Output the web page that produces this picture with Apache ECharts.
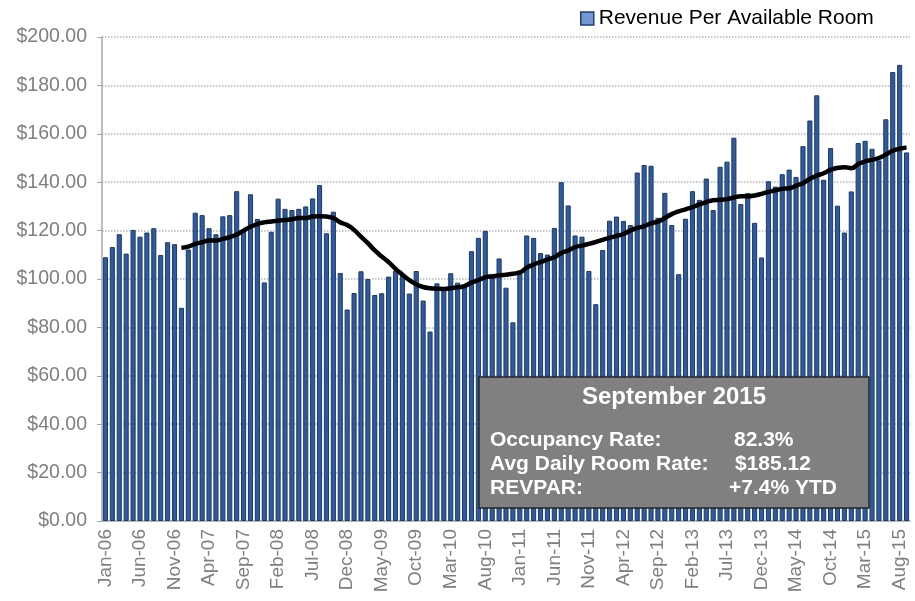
<!DOCTYPE html>
<html>
<head>
<meta charset="utf-8">
<title>Revenue Per Available Room</title>
<script src="https://cdn.jsdelivr.net/npm/echarts@6/dist/echarts.min.js"></script>
<style>
  html, body { margin: 0; padding: 0; background: #fff; }
  #chart { width: 915px; height: 601px; }
</style>
</head>
<body>
<div id="chart"></div>
<script>
// month labels Jan-06 .. Sep-15
const monthNames = ['Jan', 'Feb', 'Mar', 'Apr', 'May', 'Jun', 'Jul', 'Aug', 'Sep', 'Oct', 'Nov', 'Dec']
const years = ['06', '07', '08', '09', '10', '11', '12', '13', '14', '15']
const categories = []
years.forEach(function (y) {
  monthNames.forEach(function (m) {
    if (categories.length < 117) categories.push(m + '-' + y)
  })
})

// monthly RevPAR
const revpar = [
  109, 113.2, 118.5, 110.5, 120.3, 117.5, 119.2, 121, 109.9, 115.2, 114.4, 88.1,
  112.2, 127.4, 126.4, 121, 118.5, 125.9, 126.4, 136.3, 120.5, 135, 124.8, 98.6,
  119.5, 133.2, 129, 128.5, 129, 130, 133.3, 138.8, 118.9, 127.8, 102.5, 87.4,
  94.2, 103.2, 100, 93.4, 94.1, 101, 103.4, 101.4, 94, 103.3, 91.1, 78.3,
  98.2, 96, 102.4, 98.5, 97, 111.5, 117, 119.9, 100.5, 108.5, 96.4, 82.1,
  102.5, 118, 117, 110.7, 110.1, 121.1, 140, 130.4, 118, 117.5, 103.3, 89.6,
  112, 124.1, 125.8, 124, 122.3, 144, 147.1, 146.8, 125.3, 135.6, 122.3, 102,
  124.9, 136.3, 132.7, 141.5, 128.5, 146.4, 148.5, 158.4, 131, 135.5, 123.2, 108.9,
  140.4, 138.2, 143.3, 145.2, 142.2, 154.9, 165.5, 175.9, 141, 154.1, 130.3, 119.2,
  136.2, 156.2, 157.1, 153.8, 149, 166, 185.5, 188.5, 152.3
]

// 12-month trend line, starts at Dec-06
const trend = [
  null, null, null, null, null, null, null, null, null, null, null, 112.9,
  113.4, 114.5, 115.2, 115.9, 115.9, 116.6, 117.3, 118.4, 120, 121.6, 122.7, 123.4,
  123.8, 124.1, 124.4, 124.7, 125.2, 125.2, 125.8, 125.9, 125.8, 125.2, 123.4, 122.3,
  120.3, 117.5, 114.8, 111.8, 109.3, 107, 104.2, 101.8, 99.5, 97.8, 96.7, 96.2,
  96, 95.9, 96.2, 96.6, 97.1, 98.5, 99.5, 100.7, 101.1, 101.5, 101.8, 102.2,
  102.7, 104.7, 106, 107, 108.1, 109, 110.7, 111.8, 113.2, 113.8, 114.5, 115.3,
  116.2, 117, 117.8, 118.6, 120, 121.1, 121.8, 123, 123.7, 125.2, 126.8, 127.9,
  128.8, 129.7, 130.8, 131.8, 132.5, 132.7, 133, 133.7, 134.2, 134.2, 134.5, 135.2,
  136, 136.6, 137.3, 137.5, 138.6, 139.6, 141.4, 142.7, 143.7, 145.1, 145.9, 146.2,
  145.8, 147.5, 148.6, 149.2, 150, 151.4, 153, 153.8, 154.4
]

const boxTitle = 'September 2015'
const boxLabels = ['Occupancy Rate:', 'Avg Daily Room Rate:', 'REVPAR:']
const boxValues = ['82.3%', '$185.12', '+7.4% YTD']

const font = '"Liberation Sans", Arial, sans-serif'
const axisGray = '#7f7f7f'

const chart = echarts.init(document.getElementById('chart'))

// info box drawn over the bars
const boxValueX = [734, 735, 729]
const boxLineY = [440, 464, 488]
const boxGraphics = [
  {
    type: 'rect',
    z: 100,
    shape: { x: 479, y: 377, width: 390, height: 131 },
    style: { fill: '#808080', stroke: '#262626', lineWidth: 1.5 }
  },
  {
    type: 'text',
    z: 101,
    x: 674,
    y: 397,
    style: {
      text: boxTitle,
      fill: '#fff',
      font: 'bold 24px ' + font,
      align: 'center',
      verticalAlign: 'middle'
    }
  }
]
boxLabels.forEach(function (label, i) {
  boxGraphics.push({
    type: 'text',
    z: 101,
    x: 490,
    y: boxLineY[i],
    style: { text: label, fill: '#fff', font: 'bold 21px ' + font, verticalAlign: 'middle' }
  })
  boxGraphics.push({
    type: 'text',
    z: 101,
    x: boxValueX[i],
    y: boxLineY[i],
    style: { text: boxValues[i], fill: '#fff', font: 'bold 21px ' + font, verticalAlign: 'middle' }
  })
})

chart.setOption({
  animation: false,
  textStyle: { fontFamily: font },
  grid: { left: 102, right: 5, top: 37, bottom: 80 },
  legend: {
    left: 575,
    top: 3,
    itemWidth: 13,
    itemHeight: 13,
    itemGap: 10,
    itemTextGap: 6,
    textStyle: { fontSize: 21, color: '#000', fontFamily: font },
    data: [
      {
        name: 'Revenue Per Available Room',
        icon: 'rect',
        itemStyle: { color: '#7397d0', borderColor: '#1f3f75', borderWidth: 1.5 }
      }
    ]
  },
  xAxis: {
    type: 'category',
    data: categories,
    boundaryGap: true,
    axisLine: { lineStyle: { color: '#a6a6a6', width: 1.5 } },
    axisTick: { interval: 4, length: 5, lineStyle: { color: '#a6a6a6' } },
    axisLabel: {
      interval: 4,
      rotate: 90,
      margin: 8,
      color: axisGray,
      fontSize: 19,
      fontFamily: font
    }
  },
  yAxis: {
    type: 'value',
    min: 0,
    max: 200,
    interval: 20,
    axisLine: { show: true, lineStyle: { color: '#a6a6a6', width: 1.5 } },
    axisTick: { show: true, length: 5, lineStyle: { color: '#a6a6a6' } },
    axisLabel: {
      margin: 15,
      color: axisGray,
      fontSize: 19.5,
      fontFamily: font,
      formatter: function (v) { return '$' + v.toFixed(2) }
    },
    splitLine: { lineStyle: { color: '#b5b5b5', type: 'dotted', width: 1.5 } }
  },
  series: [
    {
      name: 'Revenue Per Available Room',
      type: 'bar',
      data: revpar,
      barCategoryGap: '26%',
      itemStyle: { color: '#2f5a9b', borderColor: '#1d3a6b', borderWidth: 1 }
    },
    {
      name: 'Trend',
      type: 'line',
      data: trend,
      smooth: true,
      symbol: 'none',
      connectNulls: false,
      lineStyle: { color: '#000', width: 4.5 },
      z: 3
    }
  ],
  graphic: boxGraphics
})
</script>
</body>
</html>
